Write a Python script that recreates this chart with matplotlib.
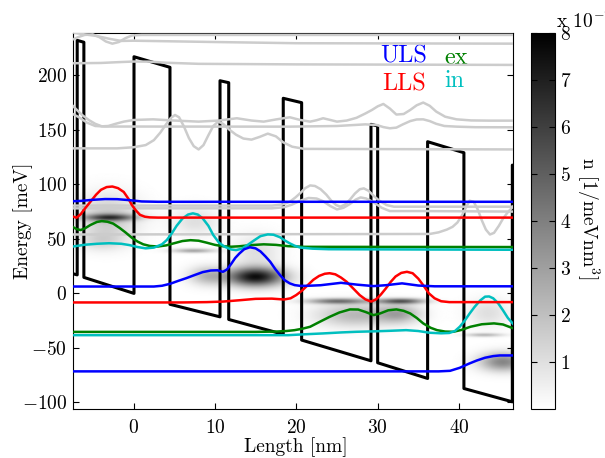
import numpy as np
import matplotlib
matplotlib.use('Agg')
import matplotlib.pyplot as plt

plt.rcParams.update({
    'font.family': 'serif',
    'font.serif': ['cmr10'],
    'mathtext.fontset': 'cm',
    'axes.formatter.use_mathtext': True,
    'font.size': 14,
})

# conduction band edge (nm, meV)
band_x = [-7.6, -6.92, -6.92, -6.1, -6.1, 0.06, 0.06, 4.48, 4.48, 10.63, 10.63, 11.7, 11.7,
          18.4, 18.4, 20.66, 20.66, 29.18, 29.18, 30.0, 30.0, 36.14, 36.14, 40.6, 40.6,
          46.55, 46.55, 47.5]
band_E = [18.3, 17.0, 232.0, 230.3, 14.7, 0.0, 217.0, 207.3, -10.0, -21.5, 195.0, 193.2, -23.9,
          -37.5, 178.9, 174.9, -42.8, -61.8, 155.0, 153.5, -63.6, -78.0, 139.1, 129.0, -87.2,
          -99.4, 117.6, 115.7]

# wavefunctions |psi|^2 drawn on their energy levels
uls1_x = [-7.6, -6.5, -5.0, -3.5, -2.0, -0.5, 1.0, 3.0, 47]
uls1_E = [84.5, 84.8, 85.8, 86.5, 86.4, 85.5, 84.3, 84.0, 84.0]
uls2_x = [-7.6, 2.5, 3.5, 4.5, 5.5, 6.5, 7.5, 8.5, 9.5, 10.3, 11.0, 11.5, 12.0, 12.5, 13.0, 13.6,
          14.3, 15.0, 15.6, 16.2, 16.8, 17.4, 18.0, 18.6, 19.2, 19.8, 20.5, 21.5, 23.0, 25.5,
          27.5, 29.5, 31.0, 33.0, 35.0, 37.0, 47]
uls2_E = [6.3, 6.3, 7.0, 8.8, 11.5, 14.0, 16.8, 19.5, 21.0, 21.2, 19.8, 22.0, 27.0, 32.5, 36.5, 40.5,
          42.3, 41.3, 38.5, 34.0, 29.0, 22.5, 16.8, 12.0, 9.2, 7.6, 6.9, 7.0, 7.5, 9.7,
          8.0, 6.7, 7.5, 9.2, 7.2, 6.5, 6.5]
uls3_x = [-7.6, 37.5, 38.9, 40.1, 41.2, 42.2, 43.2, 44.2, 45.0, 47]
uls3_E = [-71.5, -71.5, -71.0, -68.2, -64.5, -61.5, -59.0, -57.5, -56.9, -56.9]

lls1_x = [-7.6, -7.0, -6.5, -6.0, -5.3, -4.6, -4.0, -3.3, -2.6, -1.9, -1.2, -0.6, -0.2, 0.3,
          0.8, 1.4, 2.0, 3.0, 47]
lls1_E = [70.8, 69.4, 72.5, 77.5, 84.0, 90.5, 95.0, 97.5, 98.0, 96.5, 93.0, 86.5, 81.0, 76.0,
          72.0, 70.3, 69.7, 69.5, 69.5]
lls2_x = [-7.6, 6.0, 9.0, 11.0, 13.0, 15.0, 17.0, 18.5, 19.3, 20.0, 20.7, 21.4, 22.1, 22.8, 23.5,
          24.1, 24.8, 25.5, 26.2, 27.0, 27.8, 28.5, 29.2, 29.8, 30.4, 31.0, 31.6, 32.2, 32.9,
          33.6, 34.3, 35.0, 35.7, 36.3, 37.0, 37.8, 38.8, 47]
lls2_E = [-8.3, -8.3, -8.0, -7.5, -6.3, -5.0, -4.8, -5.6, -4.5, -1.5, 2.5, 7.5, 12.5, 16.0, 18.0,
          18.5, 17.5, 14.5, 10.6, 4.5, -1.6, -5.5, -7.5, -5.5, -1.0, 4.5, 10.5, 15.5, 18.8,
          19.8, 18.5, 13.5, 6.5, 0.0, -4.5, -7.2, -8.0, -8.0]

ex1_x = [-7.6, -7.0, -6.5, -6.0, -5.3, -4.5, -3.9, -3.2, -2.5, -1.7, -1.0, -0.2, 0.5, 1.2, 2.0,
         3.0, 4.0, 5.0, 6.0, 7.0, 8.0, 9.0, 10.0, 11.0, 12.0, 13.0, 14.5, 16.0, 17.5, 19.0,
         21.0, 47]
ex1_E = [61.5, 59.0, 58.1, 59.5, 62.7, 65.5, 66.3, 65.7, 64.0, 60.0, 56.0, 51.0, 47.5, 45.0, 43.5,
         43.0, 44.0, 46.0, 48.0, 48.8, 48.3, 46.5, 44.5, 43.2, 42.8, 43.2, 44.3, 45.0, 44.5, 43.3,
         42.7, 42.5]
ex2_x = [-7.6, 15.0, 17.5, 18.8, 19.8, 20.8, 21.7, 22.9, 24.1, 25.3, 26.6, 27.6, 28.5, 29.5, 30.3,
         31.3, 32.3, 33.2, 34.0, 34.8, 35.6, 36.5, 37.3, 38.3, 39.3, 40.3, 41.4, 42.8, 44.3,
         45.4, 47]
ex2_E = [-35.3, -35.3, -35.0, -34.5, -33.7, -32.3, -30.6, -26.0, -21.5, -17.5, -14.7, -14.8, -17.0,
         -19.9, -18.4, -15.5, -14.7, -16.0, -18.4, -22.5, -27.5, -31.5, -33.7, -35.0, -35.2,
         -33.5, -30.6, -28.3, -27.5, -28.5, -33.0]

in1_x = [-7.6, -6.0, -4.5, -3.0, -1.5, -0.5, 0.5, 1.5, 2.5, 3.5, 4.1, 4.7, 5.3, 6.0, 6.7, 7.3,
         7.9, 8.5, 9.2, 9.8, 10.5, 11.2, 12.0, 12.6, 13.3, 14.0, 14.8, 15.6, 16.5, 17.2, 18.0,
         18.6, 19.2, 19.8, 20.5, 22.0, 24.0, 47]
in1_E = [42.8, 44.6, 45.5, 46.0, 45.5, 44.3, 42.5, 41.3, 42.0, 45.0, 49.0, 55.0, 62.0, 68.5, 72.3,
         73.4, 72.3, 68.8, 62.0, 53.5, 46.5, 42.8, 40.3, 39.7, 41.0, 44.3, 48.5, 52.5, 54.1, 53.8,
         51.5, 48.5, 45.9, 43.7, 42.0, 41.0, 40.5, 40.0]
in2_x = [-7.6, 19.0, 21.0, 23.3, 25.5, 27.4, 29.5, 31.5, 33.5, 35.0, 36.4, 37.8, 38.8, 39.5, 40.1,
         40.7, 41.3, 41.9, 42.6, 43.2, 43.7, 44.2, 44.8, 45.4, 46.0, 47]
in2_E = [-38.3, -38.3, -37.5, -36.7, -35.8, -35.2, -34.8, -34.3, -33.7, -34.5, -36.1, -36.6, -36.3,
         -34.5, -30.5, -25.0, -18.5, -12.5, -6.5, -3.0, -2.8, -4.5, -9.0, -15.5, -22.5, -31.0]

# other states (gray)
gray_states = [
    ([-7.6, -6.8, -6.0, -5.0, -4.2, -3.4, -2.6, -1.8, -1.0, -0.2, 1.0, 10.0, 47],
     [232.4, 235.0, 237.0, 237.5, 235.0, 231.0, 229.0, 230.5, 234.0, 236.5, 237.0, 237.0, 237.0]),
    ([-7.6, -6.5, -4.5, -3.0, -1.5, 0.0, 10.0, 20.0, 47],
     [239.5, 238.0, 236.0, 233.5, 231.5, 231.7, 230.5, 229.4, 229.0]),
    ([-7.6, -4.0, -2.0, 0.0, 2.0, 4.0, 8.0, 20.0, 47],
     [211.0, 211.3, 212.0, 212.6, 212.5, 211.5, 210.5, 210.0, 209.5]),
    ([-7.6, -7.0, -6.3, -5.5, -4.7, -3.9, -3.1, -2.2, -1.2, 0.0, 2.4, 5.0, 8.0, 10.5, 12.7, 14.5,
      16.0, 17.5, 19.2, 20.5, 21.7, 22.5, 23.3, 24.2, 25.0, 26.2, 27.4, 28.5, 29.3, 30.0, 30.7,
      31.5, 32.3, 33.2, 34.0, 34.8, 35.6, 36.4, 37.2, 38.3, 39.7, 41.5, 43.8, 47],
     [173.0, 168.5, 163.5, 159.0, 155.5, 153.2, 153.5, 155.5, 157.5, 159.0, 159.6, 158.5, 157.5,
      158.5, 160.6, 158.5, 157.5, 159.5, 161.5, 159.0, 157.5, 158.8, 160.6, 159.0, 157.5, 158.5,
      161.0, 165.0, 168.2, 171.5, 173.7, 169.5, 164.0, 164.5, 168.2, 172.5, 175.0, 172.0, 166.7,
      162.0, 159.6, 158.6, 158.4, 158.4]),
    ([-7.6, -6.7, -5.7, -4.7, -3.5, 0.0, 19.2, 25.0, 28.5, 29.9, 30.7, 31.5, 32.3, 33.1, 34.0,
      34.8, 35.6, 36.4, 37.2, 38.2, 39.7, 42.0, 47],
     [165.0, 161.5, 156.5, 153.5, 153.0, 153.0, 152.9, 153.5, 155.0, 154.4, 152.5, 151.4, 152.0,
      155.0, 158.0, 159.5, 159.6, 158.0, 155.5, 153.5, 152.9, 152.4, 152.3]),
    ([-7.6, -2.0, 0.0, 1.5, 2.5, 3.3, 4.0, 4.6, 5.1, 5.6, 6.2, 6.8, 7.4, 8.0, 8.6, 9.2, 9.8, 10.4,
      11.0, 11.8, 12.6, 13.5, 14.5, 15.5, 16.5, 17.5, 18.4, 19.5, 21.0, 47],
     [133.0, 133.0, 134.0, 136.0, 140.5, 147.5, 155.0, 161.0, 163.6, 161.5, 153.0, 142.5, 135.0,
      132.0, 136.0, 145.0, 153.5, 157.5, 155.5, 150.0, 145.5, 142.0, 141.0, 143.5, 146.5, 144.0,
      138.5, 134.5, 132.5, 132.0]),
    ([-7.6, 17.0, 18.3, 19.2, 19.9, 20.5, 21.1, 21.7, 22.3, 23.0, 23.7, 24.3, 24.9, 25.4, 26.0,
      26.6, 27.2, 27.8, 28.3, 28.9, 29.5, 30.2, 31.1, 32.0, 33.0, 34.4, 47],
     [80.5, 80.5, 81.5, 84.0, 88.0, 92.0, 96.5, 99.0, 98.5, 95.5, 90.5, 85.0, 81.0, 79.5, 81.5,
      86.0, 91.5, 95.5, 96.3, 94.0, 89.5, 85.0, 81.0, 79.5, 79.5, 79.5, 79.5]),
    ([-7.6, 17.0, 18.5, 19.5, 20.5, 21.5, 22.5, 23.3, 24.2, 25.0, 25.8, 26.6, 27.3, 27.9, 28.6,
      29.5, 30.5, 31.5, 33.0, 35.6, 47],
     [78.0, 78.0, 79.0, 81.5, 85.0, 87.5, 87.0, 84.5, 80.0, 77.0, 78.5, 82.0, 86.0, 88.0, 87.0,
      83.5, 78.5, 75.5, 75.5, 75.5, 75.0]),
    ([-7.6, 36.4, 37.5, 38.5, 39.2, 39.8, 40.4, 40.9, 41.3, 41.8, 42.3, 42.8, 43.3, 43.8, 44.3,
      44.9, 45.4, 46.0, 46.7],
     [54.0, 54.5, 56.0, 58.5, 61.0, 65.0, 72.0, 79.5, 85.0, 84.0, 77.0, 67.0, 58.5, 54.0, 55.5,
      62.0, 68.5, 74.5, 80.0]),
]

# electron density blobs: x, E, width x, width E, peak (1e-7/meVnm^3)
blob_x = [-3.0, -3.2, -4.0, 7.3, 7.5, 9.0, 14.9, 15.0, 25.0, 32.8, 27.0, 32.5, 43.0, 45.3, 43.5]
blob_E = [69.5, 70.0, 48.0, 39.0, 66.0, 16.0, 15.0, 38.0, -7.3, -7.3, -20.0, -19.0, -38.3, -63.0, -18.0]
blob_sx = [2.2, 2.6, 2.0, 1.8, 2.0, 1.6, 2.4, 2.0, 2.6, 2.0, 3.2, 1.9, 1.6, 2.0, 1.8]
blob_sE = [2.2, 14.0, 6.0, 1.4, 9.0, 6.0, 6.0, 11.0, 1.8, 1.8, 7.5, 6.0, 1.2, 6.0, 9.0]
blob_amp = [5.0, 1.8, 1.1, 2.8, 1.0, 2.2, 7.5, 1.0, 4.2, 5.0, 2.2, 2.6, 2.2, 3.8, 1.0]

xlim = (-7.47, 46.6)
ylim = (-106.0, 238.5)

xg = np.linspace(xlim[0], xlim[1], 500)
eg = np.linspace(ylim[0], ylim[1], 700)
XX, EE = np.meshgrid(xg, eg)
dens = np.zeros_like(XX)
for bx, be, sx, se, a in zip(blob_x, blob_E, blob_sx, blob_sE, blob_amp):
    dens += a * 1e-7 * np.exp(-0.5 * ((XX - bx) / sx) ** 2 - 0.5 * ((EE - be) / se) ** 2)

fig = plt.figure(figsize=(6.05, 4.58), dpi=100)
ax = fig.add_axes([0.1202, 0.1070, 0.7273, 0.8203])
cax = fig.add_axes([0.8777, 0.1070, 0.0397, 0.8203])

im = ax.imshow(dens, extent=[xlim[0], xlim[1], ylim[0], ylim[1]], origin='lower',
               aspect='auto', cmap='gray_r', vmin=0, vmax=8e-7, interpolation='bilinear')

ax.plot(band_x, band_E, color='k', lw=2.2, zorder=3)
for gx, gE in gray_states:
    ax.plot(gx, gE, color=(0.8, 0.8, 0.8), lw=1.8, zorder=4)

ax.plot(ex1_x, ex1_E, color=(0, 0.5, 0), lw=1.8, zorder=5)
ax.plot(ex2_x, ex2_E, color=(0, 0.5, 0), lw=1.8, zorder=5)
ax.plot(in1_x, in1_E, color=(0, 0.75, 0.75), lw=1.8, zorder=5)
ax.plot(in2_x, in2_E, color=(0, 0.75, 0.75), lw=1.8, zorder=5)
ax.plot(lls1_x, lls1_E, color='r', lw=1.8, zorder=6)
ax.plot(lls2_x, lls2_E, color='r', lw=1.8, zorder=6)
ax.plot(uls1_x, uls1_E, color='b', lw=1.8, zorder=6)
ax.plot(uls2_x, uls2_E, color='b', lw=1.8, zorder=6)
ax.plot(uls3_x, uls3_E, color='b', lw=1.8, zorder=6)

ax.text(0.698, 0.922, 'ULS', color='b', fontsize=17.5, transform=ax.transAxes)
ax.text(0.703, 0.849, 'LLS', color='r', fontsize=17.5, transform=ax.transAxes)
ax.text(0.844, 0.917, 'ex', color=(0, 0.5, 0), fontsize=17.5, transform=ax.transAxes)
ax.text(0.844, 0.856, 'in', color=(0, 0.75, 0.75), fontsize=17.5, transform=ax.transAxes)

ax.set_xlim(xlim)
ax.set_ylim(ylim)
ax.set_xticks([0, 10, 20, 30, 40])
ax.set_yticks([-100, -50, 0, 50, 100, 150, 200])
ax.tick_params(direction='in', top=True, right=True, length=4, width=0.8)
ax.tick_params(axis='x', pad=7)
ax.tick_params(axis='y', pad=4)
ax.set_xlabel('Length [nm]')
ax.set_ylabel('Energy [meV]')
ax.xaxis.set_label_coords(0.508, -0.075)
ax.yaxis.set_label_coords(-0.09, 0.5)

cb = fig.colorbar(im, cax=cax)
cb.set_ticks([i * 1e-7 for i in range(1, 9)])
cb.set_ticklabels([str(i) for i in range(1, 9)])
cax.tick_params(direction='in', left=True, right=True, length=4, width=0.8, pad=4)
fig.text(588 / 605, 1 - 218 / 458, r'n [1/meVnm$^3$]', rotation=-90, ha='center', va='center')
fig.text(556 / 605, 1 - 28 / 458, r'x 10$^{-7}$', ha='left', va='baseline')

fig.savefig('out.png', dpi=100)
